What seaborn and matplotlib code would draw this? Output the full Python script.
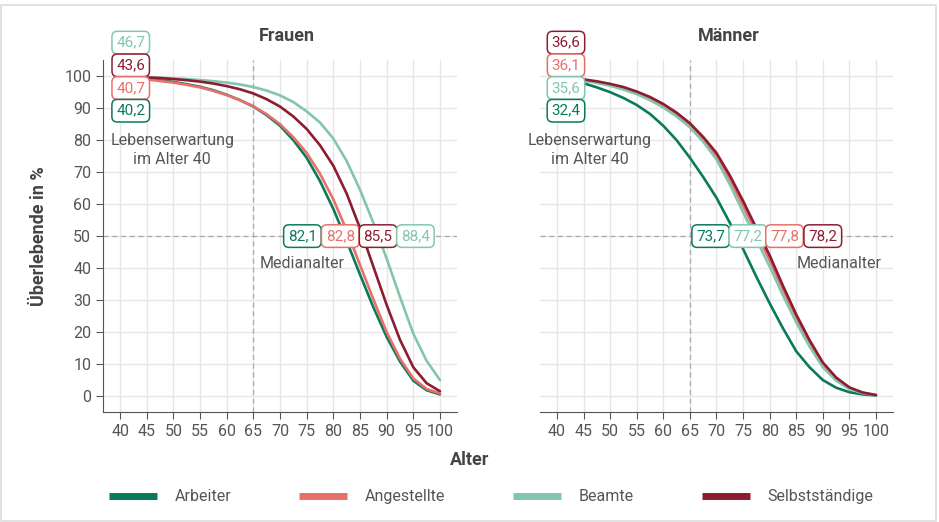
import numpy as np
import pandas as pd
from matplotlib import pyplot as plt
from matplotlib.lines import Line2D
from matplotlib.patches import Rectangle
import seaborn as sns

sns.set_style('white')
plt.rcParams['font.family'] = ['Roboto', 'DejaVu Sans']

# Daten
alter = [40, 42.5, 45, 47.5, 50, 52.5, 55, 57.5, 60, 62.5, 65, 67.5, 70,
         72.5, 75, 77.5, 80, 82.5, 85, 87.5, 90, 92.5, 95, 97.5, 100]
gruppen = ['Arbeiter', 'Angestellte', 'Beamte', 'Selbstständige']
farben = ['#0a7a5c', '#e8706b', '#83c6ad', '#8c1d31']

frauen = {
    'Arbeiter':       [100, 99.6, 99.2, 98.7, 98.2, 97.5, 96.7, 95.6, 94.2, 92.5, 90.5, 87.8, 84.5,
                       80.0, 74.5, 67.2, 58.5, 48.5, 38.0, 27.8, 18.5, 10.8, 4.8, 1.8, 0.5],
    'Angestellte':    [100, 99.5, 99.0, 98.5, 98.0, 97.3, 96.5, 95.4, 94.1, 92.5, 90.6, 88.1, 85.0,
                       80.9, 76.0, 69.5, 61.5, 51.8, 41.0, 30.3, 20.0, 11.7, 5.5, 2.2, 0.8],
    'Beamte':         [100, 99.85, 99.7, 99.5, 99.3, 99.1, 98.8, 98.45, 98.0, 97.4, 96.6, 95.5, 94.0,
                       91.9, 89.0, 85.5, 80.5, 73.5, 64.5, 54.2, 43.0, 31.0, 19.5, 11.0, 5.0],
    'Selbstständige': [100, 99.8, 99.6, 99.4, 99.1, 98.75, 98.3, 97.7, 96.9, 95.9, 94.6, 92.8, 90.5,
                       87.4, 83.5, 78.4, 72.0, 63.3, 52.5, 40.5, 28.5, 17.6, 9.0, 4.0, 1.5],
}
maenner = {
    'Arbeiter':       [100, 99.0, 97.8, 96.5, 95.0, 93.2, 91.0, 88.2, 84.5, 80.0, 74.5, 68.5, 62.0,
                       54.2, 46.0, 37.3, 29.0, 21.2, 14.0, 9.0, 5.0, 2.6, 1.2, 0.5, 0.2],
    'Angestellte':    [100, 99.4, 98.8, 98.1, 97.3, 96.2, 94.8, 93.0, 90.8, 88.1, 84.8, 80.3, 75.0,
                       67.8, 59.5, 51.0, 42.5, 33.3, 24.5, 16.5, 10.0, 5.5, 2.5, 1.0, 0.3],
    'Beamte':         [100, 99.3, 98.6, 97.9, 97.0, 95.8, 94.4, 92.5, 90.2, 87.4, 84.0, 79.5, 74.0,
                       66.2, 57.5, 49.0, 40.5, 31.5, 23.0, 15.5, 9.0, 4.8, 2.2, 0.9, 0.3],
    'Selbstständige': [100, 99.5, 99.0, 98.4, 97.6, 96.6, 95.2, 93.5, 91.3, 88.6, 85.3, 81.0, 76.0,
                       69.0, 61.0, 52.5, 44.0, 34.5, 25.5, 17.5, 10.5, 5.8, 2.7, 1.1, 0.3],
}

le_frauen = ['40,2', '40,7', '46,7', '43,6']
le_maenner = ['32,4', '36,1', '35,6', '36,6']
med_frauen = ['82,1', '82,8', '88,4', '85,5']
med_maenner = ['73,7', '77,8', '77,2', '78,2']

# Reihenfolge der Beschriftungen (oben -> unten bzw. links -> rechts)
le_order_f = ['Beamte', 'Selbstständige', 'Angestellte', 'Arbeiter']
le_order_m = ['Selbstständige', 'Angestellte', 'Beamte', 'Arbeiter']
med_order_f = ['Arbeiter', 'Angestellte', 'Selbstständige', 'Beamte']
med_order_m = ['Arbeiter', 'Beamte', 'Angestellte', 'Selbstständige']

rows = []
for sex, d in [('Frauen', frauen), ('Männer', maenner)]:
    for g in gruppen:
        for a, v in zip(alter, d[g]):
            rows.append({'Geschlecht': sex, 'Gruppe': g, 'Alter': a, 'Wert': v})
df = pd.DataFrame(rows)
palette = dict(zip(gruppen, farben))

fig = plt.figure(figsize=(9.39, 5.22), dpi=100)
fig.patches.append(Rectangle((0.001, 0.002), 0.996, 0.988, transform=fig.transFigure,
                             fill=False, edgecolor='#dcdcdc', lw=1.2))
ax1 = fig.add_axes([0.1097, 0.2107, 0.377, 0.674])
ax2 = fig.add_axes([0.575, 0.2107, 0.376, 0.674])

grau = '#555555'
for ax, sex, tx, le_vals, le_order, med_vals, med_order, le_x, med_x, txt_x in [
        (ax1, 'Frauen', 0.52, le_frauen, le_order_f, med_frauen, med_order_f, 42,
         [74.2, 81.3, 88.4, 95.4], (49.8, 74.2)),
        (ax2, 'Männer', 0.535, le_maenner, le_order_m, med_maenner, med_order_m, 41.7,
         [68.9, 75.9, 82.8, 90.0], (46.2, 93.1))]:
    sub = df[df['Geschlecht'] == sex]
    ax.set_xlim(36.8, 103.2)
    ax.set_ylim(-5, 105)
    ax.set_xticks(range(40, 101, 5))
    ax.set_yticks(range(0, 101, 10))
    ax.grid(True, color='#e6e6e6', lw=1)
    ax.set_axisbelow(True)
    ax.axhline(50, color='#aaaaaa', ls=(0, (4, 3)), lw=0.9, zorder=1)
    ax.axvline(65, color='#aaaaaa', ls=(0, (4, 3)), lw=0.9, zorder=1)
    sns.lineplot(data=sub, x='Alter', y='Wert', hue='Gruppe', palette=palette,
                 hue_order=['Arbeiter', 'Angestellte', 'Beamte', 'Selbstständige'],
                 lw=1.9, ax=ax, legend=False, zorder=3)
    ax.set_title(sex, x=tx, fontsize=13, fontweight='bold', color='#444444', pad=14)
    ax.set_xlabel('')
    ax.set_ylabel('')
    for s in ['top', 'right']:
        ax.spines[s].set_visible(False)
    ax.spines['bottom'].set_color(grau)
    ax.tick_params(axis='x', colors=grau, labelsize=11.5, length=5, direction='out', bottom=True)
    ax.tick_params(axis='y', colors=grau, labelsize=11.5, length=5, direction='out', left=True)

    lab_le = dict(zip(gruppen, le_vals))
    for i, g in enumerate(le_order):
        ax.text(le_x, 110.5 - 7.1 * i, lab_le[g], ha='center', va='center', fontsize=11,
                color=palette[g], zorder=5, clip_on=False,
                bbox=dict(boxstyle='round,pad=0.28,rounding_size=0.35', fc='white',
                          ec=palette[g], lw=1.1))
    ax.text(txt_x[0], 77, 'Lebenserwartung\nim Alter 40', ha='center', va='center',
            fontsize=11.5, color=grau, linespacing=1.35, zorder=5)

    lab_med = dict(zip(gruppen, med_vals))
    for i, g in enumerate(med_order):
        ax.text(med_x[i], 50, lab_med[g], ha='center', va='center', fontsize=11,
                color=palette[g], zorder=5,
                bbox=dict(boxstyle='round,pad=0.28,rounding_size=0.35', fc='white',
                          ec=palette[g], lw=1.1))
    ax.text(txt_x[1], 41.5, 'Medianalter', ha='center', va='center',
            fontsize=11.5, color=grau, zorder=5)

ax1.spines['left'].set_color(grau)
ax2.spines['left'].set_visible(False)
ax2.tick_params(axis='y', left=False, labelleft=False)

ax1.set_ylabel('Überlebende in %', fontsize=13, fontweight='bold', color='#444444', labelpad=12)
fig.text(0.5, 0.118, 'Alter', ha='center', va='center', fontsize=13,
         fontweight='bold', color='#444444')

handles = [Line2D([], [], color=c, lw=5, solid_capstyle='butt') for c in farben]
leg = fig.legend(handles, gruppen, loc='center', bbox_to_anchor=(0.523, 0.048), ncol=4,
                 frameon=False, handlelength=3.0, handletextpad=1.1, columnspacing=4.25,
                 fontsize=11.5)
for t in leg.get_texts():
    t.set_color(grau)

plt.savefig('out.png', dpi=100)
